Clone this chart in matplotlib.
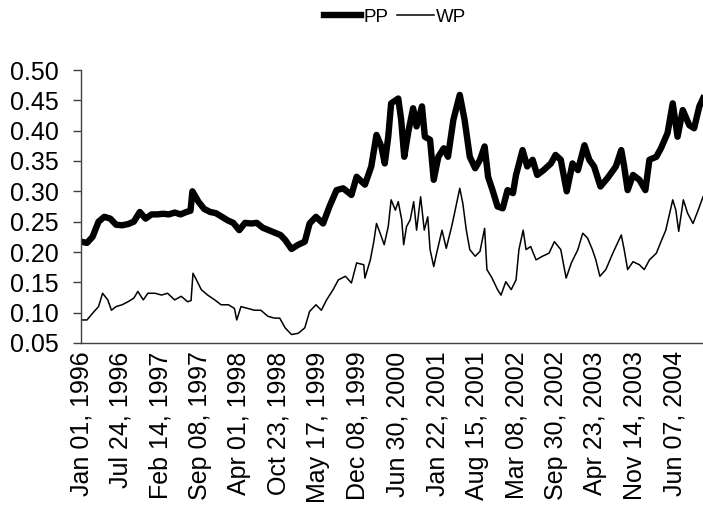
import matplotlib
matplotlib.use("Agg")
import matplotlib.pyplot as plt
import pandas as pd

plt.rcParams['font.family'] = ['Liberation Sans', 'DejaVu Sans']

# PP series
pp_dates = [
    "1996-01-01", "1996-02-01", "1996-03-01", "1996-04-01", "1996-05-01", "1996-06-01",
    "1996-07-01", "1996-08-01", "1996-09-01", "1996-10-01", "1996-11-01", "1996-12-01",
    "1997-01-01", "1997-02-01", "1997-03-01", "1997-04-01", "1997-05-01", "1997-06-01",
    "1997-07-01", "1997-07-22", "1997-08-01", "1997-09-01", "1997-10-01", "1997-11-01",
    "1997-12-01", "1998-01-01", "1998-02-01", "1998-03-01", "1998-04-01", "1998-05-01",
    "1998-06-01", "1998-07-01", "1998-08-01", "1998-09-01", "1998-10-01", "1998-11-01",
    "1998-11-25", "1998-12-28", "1999-02-01", "1999-03-07", "1999-04-01", "1999-05-04",
    "1999-06-10", "1999-07-13", "1999-08-19", "1999-09-22", "1999-11-04", "1999-12-01",
    "2000-01-13", "2000-02-15", "2000-03-13", "2000-04-07", "2000-04-25", "2000-05-13",
    "2000-05-28", "2000-07-04", "2000-07-19", "2000-08-04", "2000-08-25", "2000-09-19",
    "2000-10-07", "2000-11-04", "2000-11-19", "2000-12-16", "2001-01-04", "2001-01-28",
    "2001-02-25", "2001-03-19", "2001-04-16", "2001-05-19", "2001-06-13", "2001-07-10",
    "2001-08-07", "2001-09-01", "2001-09-25", "2001-10-13", "2001-11-07", "2001-12-01",
    "2001-12-28", "2002-01-22", "2002-02-19", "2002-03-07", "2002-04-10", "2002-05-04",
    "2002-06-01", "2002-06-25", "2002-07-28", "2002-09-04", "2002-09-28", "2002-10-25",
    "2002-11-25", "2002-12-25", "2003-01-22", "2003-02-25", "2003-03-22", "2003-04-16",
    "2003-05-19", "2003-06-25", "2003-08-07", "2003-09-04", "2003-09-19", "2003-10-07",
    "2003-11-04", "2003-12-07", "2004-01-07", "2004-01-28", "2004-03-04", "2004-03-28",
    "2004-05-01", "2004-05-28", "2004-06-22", "2004-07-19", "2004-08-22", "2004-09-16",
    "2004-10-13", "2004-11-01",
]
pp_values = [
    0.217, 0.215, 0.225, 0.250, 0.258, 0.255,
    0.245, 0.244, 0.246, 0.250, 0.266, 0.255,
    0.262, 0.262, 0.263, 0.262, 0.265, 0.262,
    0.266, 0.268, 0.300, 0.283, 0.271, 0.266,
    0.264, 0.258, 0.252, 0.248, 0.236, 0.248,
    0.247, 0.248, 0.240, 0.236, 0.232, 0.228,
    0.220, 0.205, 0.212, 0.217, 0.247, 0.258,
    0.247, 0.275, 0.302, 0.305, 0.294, 0.324,
    0.311, 0.341, 0.393, 0.374, 0.346, 0.390,
    0.445, 0.453, 0.418, 0.357, 0.398, 0.437,
    0.407, 0.440, 0.390, 0.385, 0.319, 0.357,
    0.371, 0.357, 0.418, 0.459, 0.418, 0.357,
    0.338, 0.352, 0.374, 0.324, 0.300, 0.275,
    0.272, 0.302, 0.297, 0.327, 0.368, 0.341,
    0.352, 0.327, 0.335, 0.346, 0.360, 0.352,
    0.300, 0.346, 0.335, 0.376, 0.352, 0.341,
    0.308, 0.322, 0.341, 0.368, 0.341, 0.302,
    0.327, 0.319, 0.302, 0.352, 0.357, 0.371,
    0.396, 0.445, 0.390, 0.434, 0.409, 0.404,
    0.440, 0.453,
]

# WP series
wp_dates = [
    "1996-01-01", "1996-02-01", "1996-03-01", "1996-04-01", "1996-04-22", "1996-05-19",
    "1996-06-07", "1996-07-01", "1996-08-01", "1996-09-01", "1996-10-01", "1996-10-22",
    "1996-11-19", "1996-12-13", "1997-01-19", "1997-02-22", "1997-03-25", "1997-05-01",
    "1997-06-04", "1997-07-07", "1997-07-25", "1997-08-04", "1997-08-22", "1997-09-16",
    "1997-10-19", "1997-11-25", "1997-12-28", "1998-02-04", "1998-03-07", "1998-03-19",
    "1998-04-10", "1998-05-16", "1998-06-19", "1998-07-22", "1998-08-28", "1998-10-01",
    "1998-10-28", "1998-11-25", "1998-12-28", "1999-02-01", "1999-03-07", "1999-04-01",
    "1999-05-04", "1999-06-01", "1999-06-28", "1999-08-01", "1999-08-28", "1999-10-04",
    "1999-11-04", "1999-12-01", "2000-01-07", "2000-01-13", "2000-02-10", "2000-02-28",
    "2000-03-13", "2000-04-01", "2000-04-22", "2000-05-13", "2000-05-28", "2000-06-19",
    "2000-07-04", "2000-07-22", "2000-08-01", "2000-08-16", "2000-09-04", "2000-09-22",
    "2000-10-07", "2000-10-28", "2000-11-16", "2000-12-04", "2000-12-16", "2001-01-04",
    "2001-01-19", "2001-02-16", "2001-03-10", "2001-04-07", "2001-04-22", "2001-05-19",
    "2001-06-04", "2001-06-22", "2001-07-10", "2001-08-07", "2001-09-01", "2001-09-25",
    "2001-10-07", "2001-11-01", "2001-12-01", "2001-12-19", "2002-01-13", "2002-02-10",
    "2002-03-07", "2002-03-22", "2002-04-13", "2002-04-28", "2002-05-22", "2002-06-19",
    "2002-07-22", "2002-08-25", "2002-09-22", "2002-10-25", "2002-11-22", "2002-12-19",
    "2003-01-22", "2003-02-16", "2003-03-13", "2003-04-07", "2003-04-25", "2003-05-16",
    "2003-06-16", "2003-07-22", "2003-08-16", "2003-09-04", "2003-09-19", "2003-10-07",
    "2003-11-04", "2003-12-07", "2004-01-01", "2004-01-28", "2004-03-04", "2004-03-28",
    "2004-04-22", "2004-05-28", "2004-06-13", "2004-06-28", "2004-07-22", "2004-08-13",
    "2004-09-10", "2004-10-07", "2004-11-01",
]
wp_values = [
    0.088, 0.088, 0.099, 0.110, 0.132, 0.121,
    0.104, 0.110, 0.113, 0.118, 0.124, 0.135,
    0.121, 0.132, 0.132, 0.129, 0.132, 0.121,
    0.127, 0.118, 0.120, 0.165, 0.154, 0.138,
    0.129, 0.121, 0.113, 0.113, 0.107, 0.088,
    0.110, 0.107, 0.104, 0.104, 0.094, 0.091,
    0.091, 0.075, 0.064, 0.066, 0.075, 0.102,
    0.113, 0.104, 0.121, 0.138, 0.154, 0.160,
    0.149, 0.182, 0.179, 0.157, 0.187, 0.217,
    0.247, 0.231, 0.212, 0.242, 0.286, 0.269,
    0.283, 0.253, 0.212, 0.242, 0.253, 0.283,
    0.236, 0.291, 0.236, 0.258, 0.204, 0.176,
    0.198, 0.236, 0.206, 0.242, 0.264, 0.305,
    0.280, 0.236, 0.204, 0.193, 0.201, 0.239,
    0.171, 0.158, 0.138, 0.129, 0.151, 0.138,
    0.154, 0.204, 0.236, 0.204, 0.209, 0.187,
    0.193, 0.198, 0.217, 0.204, 0.157, 0.182,
    0.204, 0.231, 0.223, 0.204, 0.187, 0.160,
    0.171, 0.198, 0.215, 0.228, 0.204, 0.171,
    0.184, 0.179, 0.171, 0.187, 0.198, 0.217,
    0.236, 0.286, 0.269, 0.234, 0.286, 0.264,
    0.247, 0.269, 0.291,
]

tick_labels = [
    "Jan 01, 1996", "Jul 24, 1996", "Feb 14, 1997", "Sep 08, 1997",
    "Apr 01, 1998", "Oct 23, 1998", "May 17, 1999", "Dec 08, 1999",
    "Jun 30, 2000", "Jan 22, 2001", "Aug 15, 2001", "Mar 08, 2002",
    "Sep 30, 2002", "Apr 23, 2003", "Nov 14, 2003", "Jun 07, 2004",
]
y_ticks = [0.05, 0.10, 0.15, 0.20, 0.25, 0.30, 0.35, 0.40, 0.45, 0.50]

pp_x = pd.to_datetime(pp_dates)
wp_x = pd.to_datetime(wp_dates)
tick_x = pd.to_datetime(tick_labels, format="%b %d, %Y")

fig = plt.figure(figsize=(7.03, 5.09), dpi=100)
ax = fig.add_axes([81 / 703, 1 - 343 / 509, 1 - 81 / 703, 273 / 509])

pp_line, = ax.plot(pp_x, pp_values, color='black', lw=4.6, solid_joinstyle='round', label='PP')
wp_line, = ax.plot(wp_x, wp_values, color='black', lw=1.1, label='WP')

ax.set_xlim(pp_x[0], pp_x[-1])
ax.set_ylim(0.05, 0.50)
ax.set_yticks(y_ticks)
ax.set_yticklabels([f"{v:.2f}" for v in y_ticks], fontsize=18)
ax.set_xticks(tick_x)
ax.set_xticklabels(tick_labels, rotation=90, fontsize=18)
ax.tick_params(axis='x', length=0, pad=6)
ax.tick_params(axis='y', length=6, width=1, pad=10, color='#404040')

for side in ('top', 'right'):
    ax.spines[side].set_visible(False)
for side in ('left', 'bottom'):
    ax.spines[side].set_color('#404040')
    ax.spines[side].set_linewidth(1)

fig.legend(handles=[pp_line, wp_line], loc='center', bbox_to_anchor=(0.562, 0.966),
           ncol=2, frameon=False, fontsize=13.5, handlelength=2.0,
           handletextpad=0.1, columnspacing=0.45)

fig.savefig("out.png", dpi=100)
